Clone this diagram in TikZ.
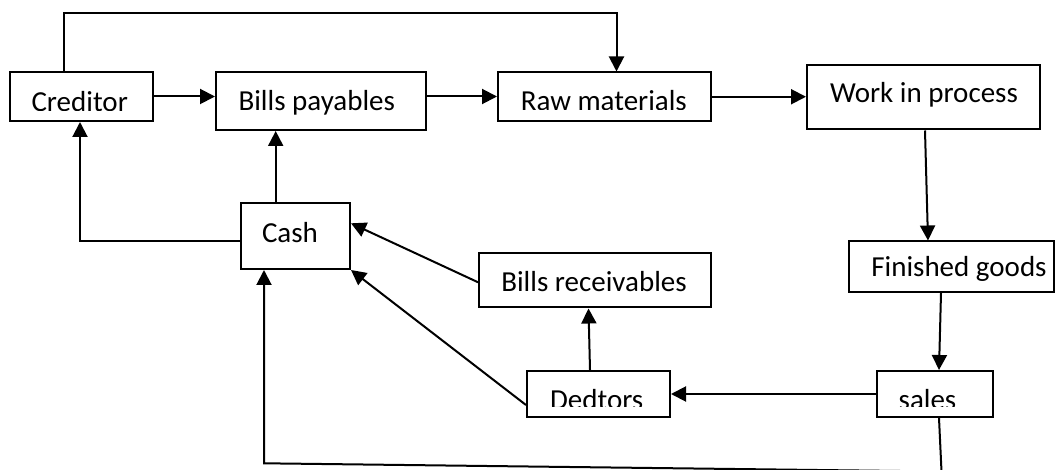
\documentclass[tikz,border=0pt]{standalone}
\usepackage{fontspec}
\setmainfont{Carlito}
\usetikzlibrary{arrows.meta,calc}
\tikzset{
  box/.style 2 args={draw, line width=2pt, inner sep=0pt, minimum width=#1pt, minimum height=#2pt},
  lbl/.style n args={5}{path picture={
      \clip ([yshift=#3pt]path picture bounding box.south west) rectangle (path picture bounding box.north east);
      \node[anchor=base, inner sep=0pt] (#5) at ([xshift=#1pt,yshift=#2pt]path picture bounding box.center) {#4};}},
  arr/.style={line width=2pt, -{Triangle[length=15pt,width=15pt]}},
  ln/.style={line width=2pt}
}
\begin{document}
\begin{tikzpicture}[x=1pt,y=-1pt,font=\fontsize{29}{35}\selectfont]
\useasboundingbox (0,0) rectangle (1055,470);
\clip (0,0) rectangle (1055,470);
% boxes
\node[box={143}{49}, lbl={-1.8}{-15}{10}{Creditor}{credt}] (cred) at (81.5,96.5) {};
\node[box={210}{57.5}, lbl={-4.2}{-9.05}{0}{Bills payables}{bpt}] (bp) at (321,101.25) {};
\node[box={213}{48.5}, lbl={-0.7}{-14.25}{11.3}{Raw materials}{rawt}] (raw) at (604.5,96.75) {};
\node[box={233}{64.5}, lbl={0.5}{-5.05}{0}{Work in process}{wipt}] (wip) at (923.5,97.25) {};
\node[box={204.5}{50.5}, lbl={7.75}{-10.25}{9}{Finished goods}{fgt}] (fg) at (951.25,266.75) {};
\node[box={109}{66}, lbl={-5.5}{-6.3}{0}{Cash}{casht}] (cash) at (295.5,236) {};
\node[box={232}{54.5}, lbl={-1}{-11.45}{0}{Bills receivables}{brt}] (br) at (595,280.25) {};
\node[box={143}{46}, lbl={-1.8}{-15.5}{10.5}{Dedtors}{dedt}] (ded) at (598.5,394) {};
\node[box={116}{46}, lbl={-7.5}{-15.5}{10.5}{sales}{salest}] (sales) at (935,394) {};
% helper coordinates
\coordinate (t1) at (64,13);
\coordinate (t2) at (616.5,13);
\coordinate (m1) at (941.5,471.5);
\coordinate (m2) at (264,463.3);
\coordinate (k1) at ($(cash.north)+(-19.8,0)$);
\coordinate (l1) at ($(cash.west)+(0,4.7)$);
% connectors
\draw[arr] (cred.east) -- (cred.east -| bp.west);
\draw[arr] (bp.east |- cred.east) -- (raw.west |- cred.east);
\draw[arr] (raw.east) -- (raw.east -| wip.west);
\draw[arr] (cred.north -| t1) -- (t1) -- (t2) -- (t2 |- raw.north);
\draw[arr] ($(wip.south)+(1.5,0)$) -- ($(fg.north)+(-23.25,0)$);
\draw[arr] ($(fg.south)+(-10.25,0)$) -- ($(sales.north)+(4,0)$);
\draw[arr] (sales.west) -- (ded.east);
\draw[arr] ($(ded.north)+(-8.5,0)$) -- ($(br.south)+(-6.5,0)$);
\draw[arr] ($(br.west)+(0,2)$) -- ($(cash.east)+(0,-12.7)$);
\draw[arr] ($(ded.west)+(0,11)$) -- (cash.south east);
\draw[arr] (k1) -- (k1 |- bp.south);
\draw[arr] (l1) -| ($(cred.south)+(-1.5,0)$);
\draw[arr] ($(sales.south)+(4,0)$) -- (m1) -- (m2) -- (m2 |- cash.south);
\end{tikzpicture}
\end{document}
